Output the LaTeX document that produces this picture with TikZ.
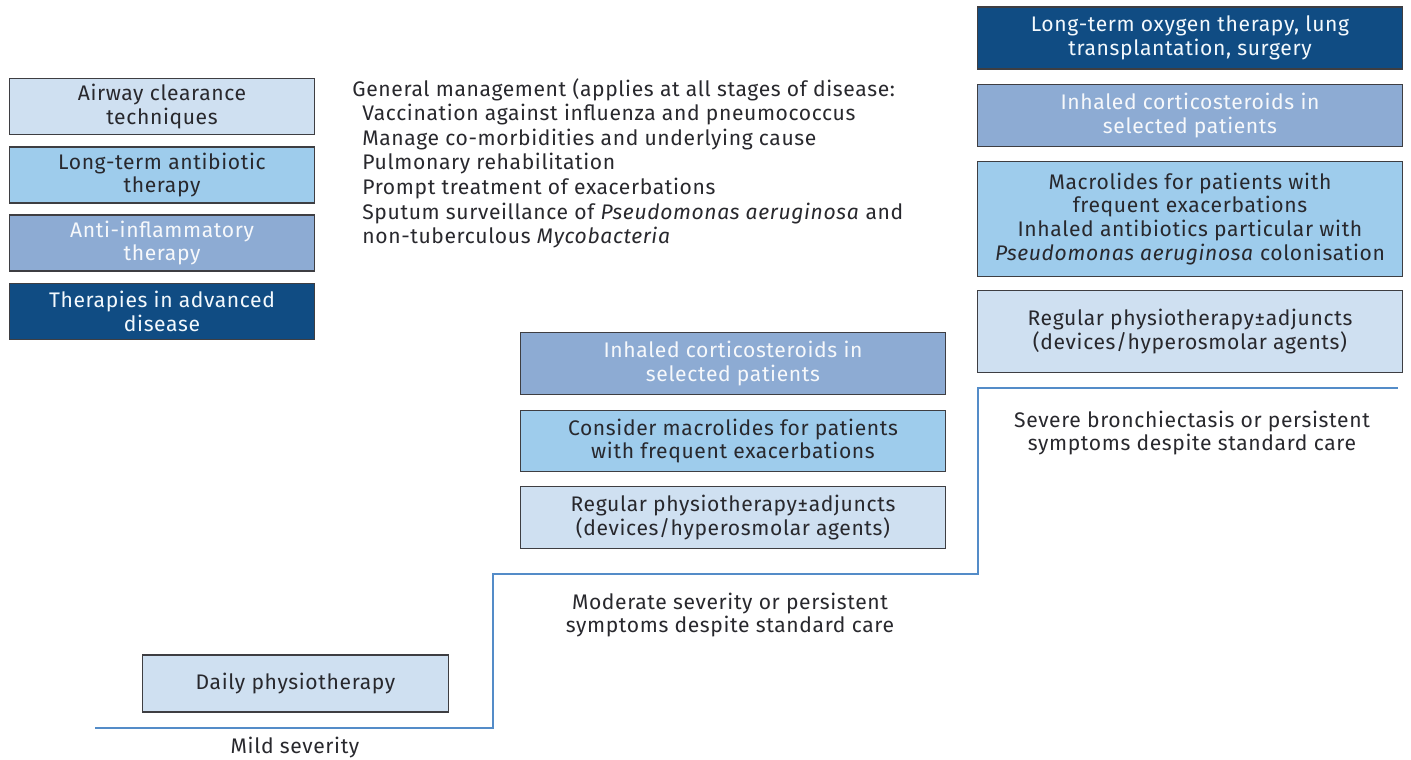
\documentclass[tikz,border=0pt]{standalone}
\usepackage{fontspec}
\setmainfont[LetterSpace=3]{Fira Sans}
\definecolor{paleblue}{RGB}{207,224,241}
\definecolor{skyblue}{RGB}{158,204,236}
\definecolor{greyblue}{RGB}{141,171,211}
\definecolor{navyblue}{RGB}{16,76,131}
\definecolor{stairblue}{RGB}{84,140,200}
\definecolor{inktext}{RGB}{40,40,45}
\definecolor{boxline}{RGB}{62,62,66}

\begin{document}
\begin{tikzpicture}
	[x=0.02cm, y=-0.02cm, font=\fontsize{12}{13.6}\selectfont, text=inktext,
	box/.style={rectangle,draw=boxline,line width=0.6pt,align=center,inner sep=0pt},
	leftbox/.style={box,minimum width=6.12cm,minimum height=1.12cm},
	widebox/.style={box,minimum width=8.5cm,minimum height=1.23cm},
	palebox/.style={fill=paleblue},
	skybox/.style={fill=skyblue},
	greybox/.style={fill=greyblue,text=white!92!greyblue},
	navybox/.style={fill=navyblue,text=white!88!skyblue},
	stage/.style={align=center}]
	\useasboundingbox (0,0) rectangle (1411,760);
	% key on the left
	\node (airway) [leftbox,palebox] at (162,106.5) {Airway clearance\\techniques};
	\node (antibio) [leftbox,skybox] at (162,175) {Long-term antibiotic\\therapy};
	\node (antiinfl) [leftbox,greybox] at (162,243) {Anti-inflammatory\\therapy};
	\node (advanced) [leftbox,navybox] at (162,311.5) {Therapies in advanced\\disease};
	% general management
	\node (general) [anchor=north west,align=left,inner sep=0pt,
		font=\fontsize{12}{14}\selectfont] at (352,78)
		{General management (applies at all stages of disease:\\
		\hspace*{0.2cm}Vaccination against influenza and pneumococcus\\
		\hspace*{0.2cm}Manage co-morbidities and underlying cause\\
		\hspace*{0.2cm}Pulmonary rehabilitation\\
		\hspace*{0.2cm}Prompt treatment of exacerbations\\
		\hspace*{0.2cm}Sputum surveillance of \textit{Pseudomonas aeruginosa} and\\
		\hspace*{0.2cm}non-tuberculous \textit{Mycobacteria}};
	% mild
	\node (daily) [leftbox,palebox,minimum height=1.14cm] at (295.5,683.5) {Daily physiotherapy};
	% moderate
	\node (icsmod) [widebox,greybox] at (733,363.5) {Inhaled corticosteroids in\\selected patients};
	\node (macmod) [widebox,skybox] at (733,441) {Consider macrolides for patients\\with frequent exacerbations};
	\node (physmod) [widebox,palebox] at (733,517.5) {Regular physiotherapy±adjuncts\\(devices/hyperosmolar agents)};
	% severe
	\node (oxygen) [widebox,navybox,minimum height=1.24cm] at (1190,38) {Long-term oxygen therapy, lung\\transplantation, surgery};
	\node (icssev) [widebox,greybox,minimum height=1.24cm] at (1190,115.5) {Inhaled corticosteroids in\\selected patients};
	\node (macsev) [widebox,skybox,minimum height=2.3cm] at (1190,219)
		{Macrolides for patients with\\frequent exacerbations\\Inhaled antibiotics particular with\\\textit{Pseudomonas aeruginosa} colonisation};
	\node (physsev) [widebox,palebox,minimum height=1.64cm] at (1190,331.5) {Regular physiotherapy±adjuncts\\(devices/hyperosmolar agents)};
	% steps
	\coordinate (s0) at (95,728);
	\coordinate (s1) at (493,728);
	\coordinate (s2) at (493,574);
	\coordinate (s3) at (978,574);
	\coordinate (s4) at (978,388);
	\coordinate (s5) at (1398,388);
	\draw [stairblue,line width=1.4pt] (s0) -- (s1) -- (s2) -- (s3) -- (s4) -- (s5);
	\node (mild) [stage] at (295,748) {Mild severity};
	\node (moderate) [stage] at (730,615) {Moderate severity or persistent\\symptoms despite standard care};
	\node (severe) [stage] at (1192,433) {Severe bronchiectasis or persistent\\symptoms despite standard care};
\end{tikzpicture}
\end{document}
